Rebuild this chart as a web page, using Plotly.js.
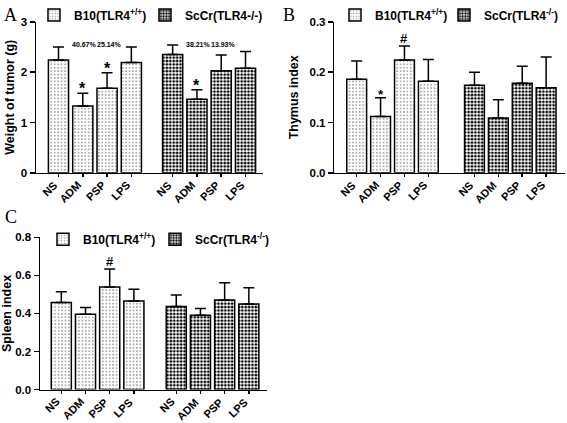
<!DOCTYPE html>
<html><head><meta charset="utf-8">
<script src="https://cdn.plot.ly/plotly-3.0.1.min.js"></script>
<style>html,body{margin:0;padding:0;background:#fff}</style>
</head><body><div id="chart" style="width:567px;height:423px"></div>
<script>
// ---- data ----
const treatments = ['NS', 'ADM', 'PSP', 'LPS'];
const strainWT = 'B10(TLR4<sup>+/+</sup>)';
const strainKO_A = 'ScCr(TLR4-/-)';
const strainKO = 'ScCr(TLR4<sup>-/-</sup>)';

const tumorB10 = [2.24, 1.33, 1.68, 2.19];
const tumorB10Err = [0.26, 0.25, 0.31, 0.31];
const tumorScCr = [2.35, 1.46, 2.03, 2.08];
const tumorScCrErr = [0.19, 0.19, 0.31, 0.33];
const tumorB10Sig = ['', '*', '*', ''];
const tumorScCrSig = ['', '*', '', ''];
const tumorB10Pct = ['', '40.67%', '25.14%', ''];
const tumorScCrPct = ['', '38.21%', '13.93%', ''];

const thymusB10 = [0.186, 0.112, 0.224, 0.182];
const thymusB10Err = [0.036, 0.037, 0.028, 0.043];
const thymusScCr = [0.174, 0.109, 0.178, 0.169];
const thymusScCrErr = [0.026, 0.036, 0.034, 0.061];
const thymusB10Sig = ['', '*', '#', ''];
const thymusScCrSig = ['', '', '', ''];

const spleenB10 = [0.457, 0.396, 0.539, 0.466];
const spleenB10Err = [0.057, 0.035, 0.094, 0.061];
const spleenScCr = [0.436, 0.391, 0.471, 0.449];
const spleenScCrErr = [0.061, 0.035, 0.090, 0.086];
const spleenB10Sig = ['', '', '#', ''];
const spleenScCrSig = ['', '', '', ''];

// ---- layout helpers ----
const W = 567, H = 423;
const FONT = 'Arial, "Liberation Sans", sans-serif';
const SERIF = '"Times New Roman", "Liberation Serif", serif';

const panels = [
  {id: '', letter: 'A', lx: 2, ly: 0, xpx: [36, 263], ypx: [19, 171], range: [0, 3], dtick: 1, fmt: 'd',
   xr: [-0.926, 8.42], gap: 1.7, title: 'Weight of tumor (g)', standoff: 3,
   wt: tumorB10, wtErr: tumorB10Err, ko: tumorScCr, koErr: tumorScCrErr,
   wtSig: tumorB10Sig, koSig: tumorScCrSig, koName: strainKO_A, sigSize: 16,
   wtPct: tumorB10Pct, koPct: tumorScCrPct, pctY: 2.55,
   legWT: 73, legKO: 184, legY: 12},
  {id: '2', letter: 'B', lx: 281, ly: 0, xpx: [334.3, 565], ypx: [19, 171], range: [0, 0.3], dtick: 0.1, fmt: '.1f',
   xr: [-0.937, 8.72], gap: 1.93, title: 'Thymus index', standoff: 8,
   wt: thymusB10, wtErr: thymusB10Err, ko: thymusScCr, koErr: thymusScCrErr,
   wtSig: thymusB10Sig, koSig: thymusScCrSig, koName: strainKO, sigSize: 13,
   legWT: 374, legKO: 483, legY: 12},
  {id: '3', letter: 'C', lx: 3, ly: 203, xpx: [40, 267], ypx: [236, 389.3], range: [0, 0.8], dtick: 0.2, fmt: '.1f',
   xr: [-0.88, 8.5], gap: 1.75, title: 'Spleen index', standoff: 2,
   wt: spleenB10, wtErr: spleenB10Err, ko: spleenScCr, koErr: spleenScCrErr,
   wtSig: spleenB10Sig, koSig: spleenScCrSig, koName: strainKO, sigSize: 13,
   legWT: 82, legKO: 194, legY: 238}
];

const traces = [];
const annotations = [];
const layout = {
  width: W, height: H, autosize: false, showlegend: true,
  margin: {l: 0, r: 0, t: 0, b: 0},
  paper_bgcolor: '#fff', plot_bgcolor: 'rgba(0,0,0,0)',
  font: {family: FONT, color: '#000', size: 11},
  barmode: 'overlay',
  annotations: annotations
};

function legendDef(textPx, yPx) {
  return {
    orientation: 'h', x: (textPx - 39) / W, xanchor: 'left', y: 1 - yPx / H, yanchor: 'middle',
    xref: 'paper', yref: 'paper', bgcolor: 'rgba(0,0,0,0)', borderwidth: 0,
    font: {family: FONT, size: 12, weight: 'bold'}, itemwidth: 30, visible: true,
    itemclick: false, itemdoubleclick: false
  };
}

panels.forEach((p, k) => {
  const xa = 'x' + p.id, ya = 'y' + p.id;
  const xaKey = 'xaxis' + p.id, yaKey = 'yaxis' + p.id;
  const legA = k === 0 ? 'legend' : 'legend' + (2 * k + 1);
  const legB = 'legend' + (2 * k + 2);
  const posWT = treatments.map((_, i) => i);
  const posKO = treatments.map((_, i) => treatments.length - 1 + p.gap + i);
  const yBottom = 1 - p.ypx[1] / H;

  const common = {type: 'bar', xaxis: xa, yaxis: ya, width: 0.83, hoverinfo: 'skip', showlegend: true};
  traces.push(Object.assign({}, common, {
    name: strainWT, x: posWT, y: p.wt, legend: legA,
    marker: {color: '#fff', line: {color: '#000', width: 1.5},
      pattern: {shape: '.', fgcolor: '#8a8a8a', bgcolor: '#fff', size: 3.4, solidity: 0.18}},
    error_y: {type: 'data', array: p.wtErr, arrayminus: p.wtErr.map(() => 0), symmetric: false,
      color: '#000', thickness: 1.5, width: 5.5}
  }));
  traces.push(Object.assign({}, common, {
    name: p.koName, x: posKO, y: p.ko, legend: legB,
    marker: {color: '#fff', line: {color: '#000', width: 1.5},
      pattern: {shape: '.', fgcolor: '#000', bgcolor: '#fff', size: 3.4, solidity: 0.5}},
    error_y: {type: 'data', array: p.koErr, arrayminus: p.koErr.map(() => 0), symmetric: false,
      color: '#000', thickness: 1.5, width: 5.5}
  }));

  const tickPos = posWT.concat(posKO);
  const tickText = treatments.concat(treatments);
  layout[xaKey] = {
    domain: [p.xpx[0] / W, p.xpx[1] / W], anchor: ya, range: p.xr,
    tickvals: tickPos, ticktext: tickText, showticklabels: false,
    ticks: 'outside', ticklen: 3, tickwidth: 1.5, tickcolor: '#000',
    showline: true, linecolor: '#000', linewidth: 1.5, showgrid: false, zeroline: false,
    automargin: false, fixedrange: true
  };
  layout[yaKey] = {
    domain: [yBottom, 1 - p.ypx[0] / H], anchor: xa, range: p.range,
    dtick: p.dtick, tick0: 0, tickformat: p.fmt,
    ticks: 'outside', ticklen: 5, tickwidth: 1.5, tickcolor: '#000',
    showline: true, linecolor: '#000', linewidth: 1.5, showgrid: false, zeroline: false,
    tickfont: {family: FONT, size: 11.5, weight: 'bold'}, automargin: false, fixedrange: true,
    title: {text: p.title, standoff: p.standoff, font: {family: FONT, size: 12.5, weight: 'bold'}}
  };
  layout[legA] = legendDef(p.legWT, p.legY);
  layout[legB] = legendDef(p.legKO, p.legY);

  // rotated category labels under each tick
  tickPos.forEach((xv, i) => {
    annotations.push({xref: xa, yref: 'paper', x: xv, y: yBottom, text: tickText[i],
      textangle: -45, xanchor: 'right', yanchor: 'top', xshift: 2, yshift: -5, showarrow: false,
      borderpad: 0, font: {family: FONT, size: 11, weight: 'bold', color: '#000'}});
  });

  annotations.push({xref: 'paper', yref: 'paper', x: p.lx / W, y: 1 - p.ly / H,
    xanchor: 'left', yanchor: 'top', showarrow: false, text: p.letter,
    font: {family: SERIF, size: 18, color: '#000'}});

  [[posWT, p.wt, p.wtErr, p.wtSig], [posKO, p.ko, p.koErr, p.koSig]].forEach(([xs, ys, es, ss]) => {
    ss.forEach((s, i) => {
      if (!s) return;
      annotations.push({xref: xa, yref: ya, x: xs[i], y: ys[i] + es[i], text: s,
        showarrow: false, yanchor: 'bottom', yshift: s === '*' ? -6 : -2,
        font: {family: FONT, size: s === '*' ? p.sigSize : 13, weight: 'bold', color: '#000'}});
    });
  });
  if (p.wtPct) {
    [[posWT, p.wtPct], [posKO, p.koPct]].forEach(([xs, ts]) => {
      ts.forEach((t, i) => {
        if (!t) return;
        annotations.push({xref: xa, yref: ya, x: xs[i], y: p.pctY, text: t, showarrow: false,
          xshift: 2, font: {family: FONT, size: 7, weight: 'bold', color: '#000'}});
      });
    });
  }
});

Plotly.newPlot('chart', traces, layout, {staticPlot: true, displayModeBar: false});
</script>
</body></html>
